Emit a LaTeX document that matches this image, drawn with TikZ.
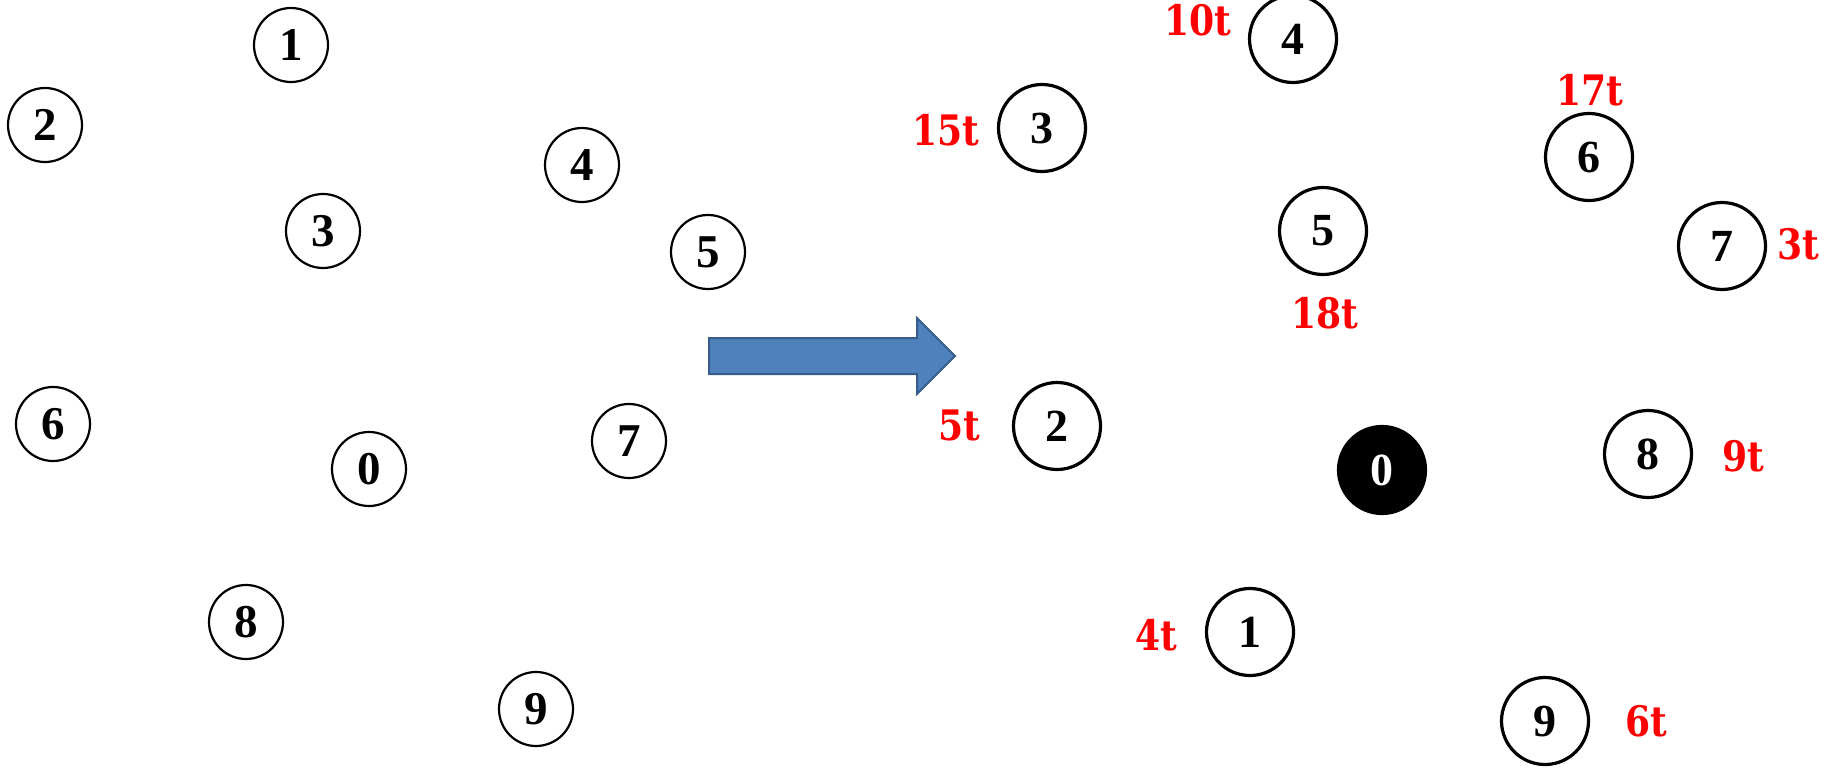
\documentclass[tikz,border=0pt]{standalone}
\usepackage{fontspec}
\setmainfont{Liberation Serif}
\newfontfamily\redfont[FakeStretch=0.86]{DejaVu Serif}
\definecolor{arrowfill}{HTML}{4F81BD}
\definecolor{arrowline}{HTML}{385D8A}
\begin{document}
\begin{tikzpicture}[x=1pt,y=-1pt,
  lnode/.style={circle,draw=black,line width=2.2pt,minimum size=74pt,inner sep=0pt,
    font=\fontsize{47}{47}\selectfont\bfseries},
  rnode/.style={circle,draw=black,line width=3.2pt,minimum size=87pt,inner sep=0pt,
    font=\fontsize{46}{46}\selectfont\bfseries},
  snode/.style={rnode,fill=black,text=white},
  tlabel/.style={inner sep=0pt,text=red,font=\fontsize{42}{42}\selectfont\redfont\bfseries}]
\useasboundingbox (0,0) rectangle (1846,770);
% left graph
\node[lnode] (l1) at (291,45) {1};
\node[lnode] (l2) at (45,125) {2};
\node[lnode] (l3) at (323,231) {3};
\node[lnode] (l4) at (582,165) {4};
\node[lnode] (l5) at (708,252) {5};
\node[lnode] (l6) at (53,424) {6};
\node[lnode] (l0) at (369,469) {0};
\node[lnode] (l7) at (629,441) {7};
\node[lnode] (l8) at (246,622) {8};
\node[lnode] (l9) at (536,709) {9};
% block arrow
\draw[fill=arrowfill,draw=arrowline,line width=2pt,line join=miter]
  (709,338) -- (917,338) -- (917,318) -- (955,356) -- (917,394) -- (917,374) -- (709,374) -- cycle;
% right graph
\node[rnode] (r4) at (1293,39) {4};
\node[rnode] (r3) at (1042,128) {3};
\node[rnode] (r6) at (1589,157) {6};
\node[rnode] (r5) at (1323,231) {5};
\node[rnode] (r7) at (1722,246) {7};
\node[rnode] (r2) at (1057,426) {2};
\node[snode] (r0) at (1382,470) {0};
\node[rnode] (r8) at (1648,454) {8};
\node[rnode] (r1) at (1250,632) {1};
\node[rnode] (r9) at (1545,721) {9};
% time labels
\node[tlabel] (t4) at (1198,20) {10t};
\node[tlabel] (t3) at (946,130) {15t};
\node[tlabel] (t6) at (1590,90) {17t};
\node[tlabel] (t5) at (1325,313) {18t};
\node[tlabel] (t7) at (1798,244) {3t};
\node[tlabel] (t2) at (959,425) {5t};
\node[tlabel] (t8) at (1743,456) {9t};
\node[tlabel] (t1) at (1156,635) {4t};
\node[tlabel] (t9) at (1646,721) {6t};
\end{tikzpicture}
\end{document}
